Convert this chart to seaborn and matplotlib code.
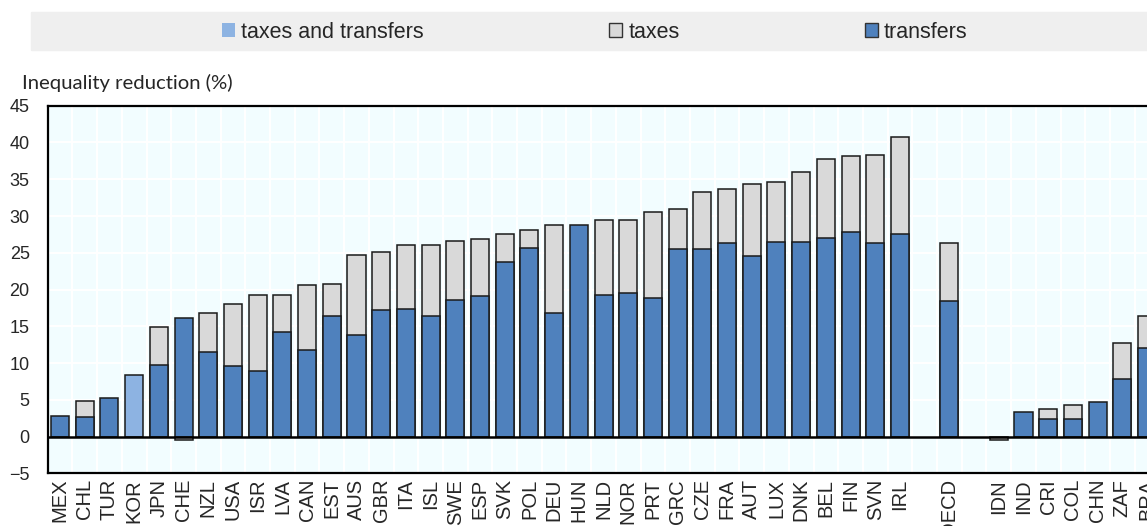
import numpy as np
import pandas as pd
import matplotlib
matplotlib.use('Agg')
import matplotlib.pyplot as plt
from matplotlib.patches import Patch, Rectangle
import seaborn as sns

# veriler
countries = ['MEX', 'CHL', 'TUR', 'KOR', 'JPN', 'CHE', 'NZL', 'USA', 'ISR', 'LVA',
             'CAN', 'EST', 'AUS', 'GBR', 'ITA', 'ISL', 'SWE', 'ESP', 'SVK', 'POL',
             'DEU', 'HUN', 'NLD', 'NOR', 'PRT', 'GRC', 'CZE', 'FRA', 'AUT', 'LUX',
             'DNK', 'BEL', 'FIN', 'SVN', 'IRL', ' ', 'OECD', '  ',
             'IDN', 'IND', 'CRI', 'COL', 'CHN', 'ZAF', 'BRA']
transfers = [2.8, 2.7, 5.2, np.nan, 9.8, 16.2, 11.5, 9.6, 8.9, 14.2,
             11.8, 16.4, 13.8, 17.2, 17.4, 16.4, 18.6, 19.1, 23.7, 25.6,
             16.8, 28.8, 19.2, 19.5, 18.8, 25.5, 25.5, 26.3, 24.5, 26.5,
             26.5, 27.0, 27.8, 26.3, 27.6, np.nan, 18.5, np.nan,
             0.0, 3.3, 2.4, 2.4, 4.7, 7.8, 12.0]
taxes = [np.nan, 2.1, np.nan, np.nan, 5.1, -0.5, 5.3, 8.5, 10.4, 5.1,
         8.8, 4.3, 10.9, 7.9, 8.6, 9.7, 8.0, 7.8, 3.8, 2.5,
         12.0, np.nan, 10.2, 10.0, 11.8, 5.5, 7.7, 7.4, 9.9, 8.1,
         9.5, 10.7, 10.4, 12.0, 13.1, np.nan, 7.9, np.nan,
         -0.4, np.nan, 1.4, 1.9, np.nan, 5.0, 4.4]
taxes_and_transfers = {'KOR': 8.4}

blue = '#4f81bd'
light_blue = '#8db3e2'
grey = '#d9d9d9'

df = pd.DataFrame({'country': countries, 'transfers': transfers, 'taxes': taxes})
df = df[df['country'].str.strip() != '']
df['upper'] = df['transfers'] + df['taxes'].where(df['taxes'] > 0)
df['lower'] = df['taxes'].where(df['taxes'] < 0)
kor = pd.DataFrame({'country': list(taxes_and_transfers.keys()),
                    'value': list(taxes_and_transfers.values())})

sns.set_style('white')
plt.rcParams['font.family'] = ['Liberation Sans', 'DejaVu Sans']

fig = plt.figure(figsize=(11.47, 5.26), dpi=100)
ax = fig.add_axes([0.0416, 0.100, 1 - 0.0416, 0.699])
ax.set_facecolor('#f2fdff')

bar_kw = dict(order=countries, width=0.73, edgecolor='#1a1a1a', linewidth=1.1,
              ax=ax, errorbar=None, zorder=2)
d = df.dropna(subset=['upper'])
sns.barplot(data=d, x='country', y='upper', color=grey, saturation=1, **bar_kw)
d = df.dropna(subset=['lower'])
sns.barplot(data=d, x='country', y='lower', color=grey, saturation=1, **bar_kw)
d = df[df['transfers'] > 0]
sns.barplot(data=d, x='country', y='transfers', color=blue, saturation=1, **bar_kw)
sns.barplot(data=kor, x='country', y='value', color=light_blue, saturation=1, **bar_kw)

ax.set_xlim(-0.5, 44.0)
ax.set_ylim(-5, 45)
ax.set_yticks(range(-5, 46, 5))
ax.set_xticks(range(len(countries)))
ax.set_xticklabels([c.strip() for c in countries], rotation=90,
                   family=['Liberation Sans Narrow', 'Liberation Sans'], fontsize=14.5)
ax.set_xlabel('')
ax.set_ylabel('')

# beyaz izgara cizgileri
for i in range(len(countries)):
    ax.axvline(i + 0.5, color='white', lw=1.5, zorder=1)
for yv in range(0, 45, 5):
    ax.axhline(yv, color='white', lw=1.5, zorder=1)
ax.axhline(0, color='black', lw=1.8, zorder=3)

ax.tick_params(axis='y', direction='in', length=5, width=1.2, pad=13, labelsize=13, left=True)
ax.tick_params(axis='x', length=0, pad=4)
for s in ['left', 'top', 'bottom']:
    ax.spines[s].set_color('black')
    ax.spines[s].set_linewidth(1.6)
ax.spines['right'].set_visible(False)

fig.text(0.019, 0.842, 'Inequality reduction (%)', fontsize=14.6, va='center',
         family=['Lato', 'DejaVu Sans'])

# lejant
fig.add_artist(Rectangle((0.027, 0.905), 0.973, 0.072, transform=fig.transFigure,
                         color='#efefef', zorder=0))
handles = [Patch(facecolor=light_blue, edgecolor='none'),
           Patch(facecolor=grey, edgecolor='#333333', linewidth=1.0),
           Patch(facecolor=blue, edgecolor='#333333', linewidth=1.0)]
fig.legend(handles, ['taxes and transfers', 'taxes', 'transfers'], ncol=3,
           loc='center left', bbox_to_anchor=(0.1933, 0.939), frameon=False,
           fontsize=15.5, handlelength=0.6, handleheight=0.6, handletextpad=0.3,
           columnspacing=8.6, borderpad=0, borderaxespad=0)

fig.savefig('out.png', dpi=100)
